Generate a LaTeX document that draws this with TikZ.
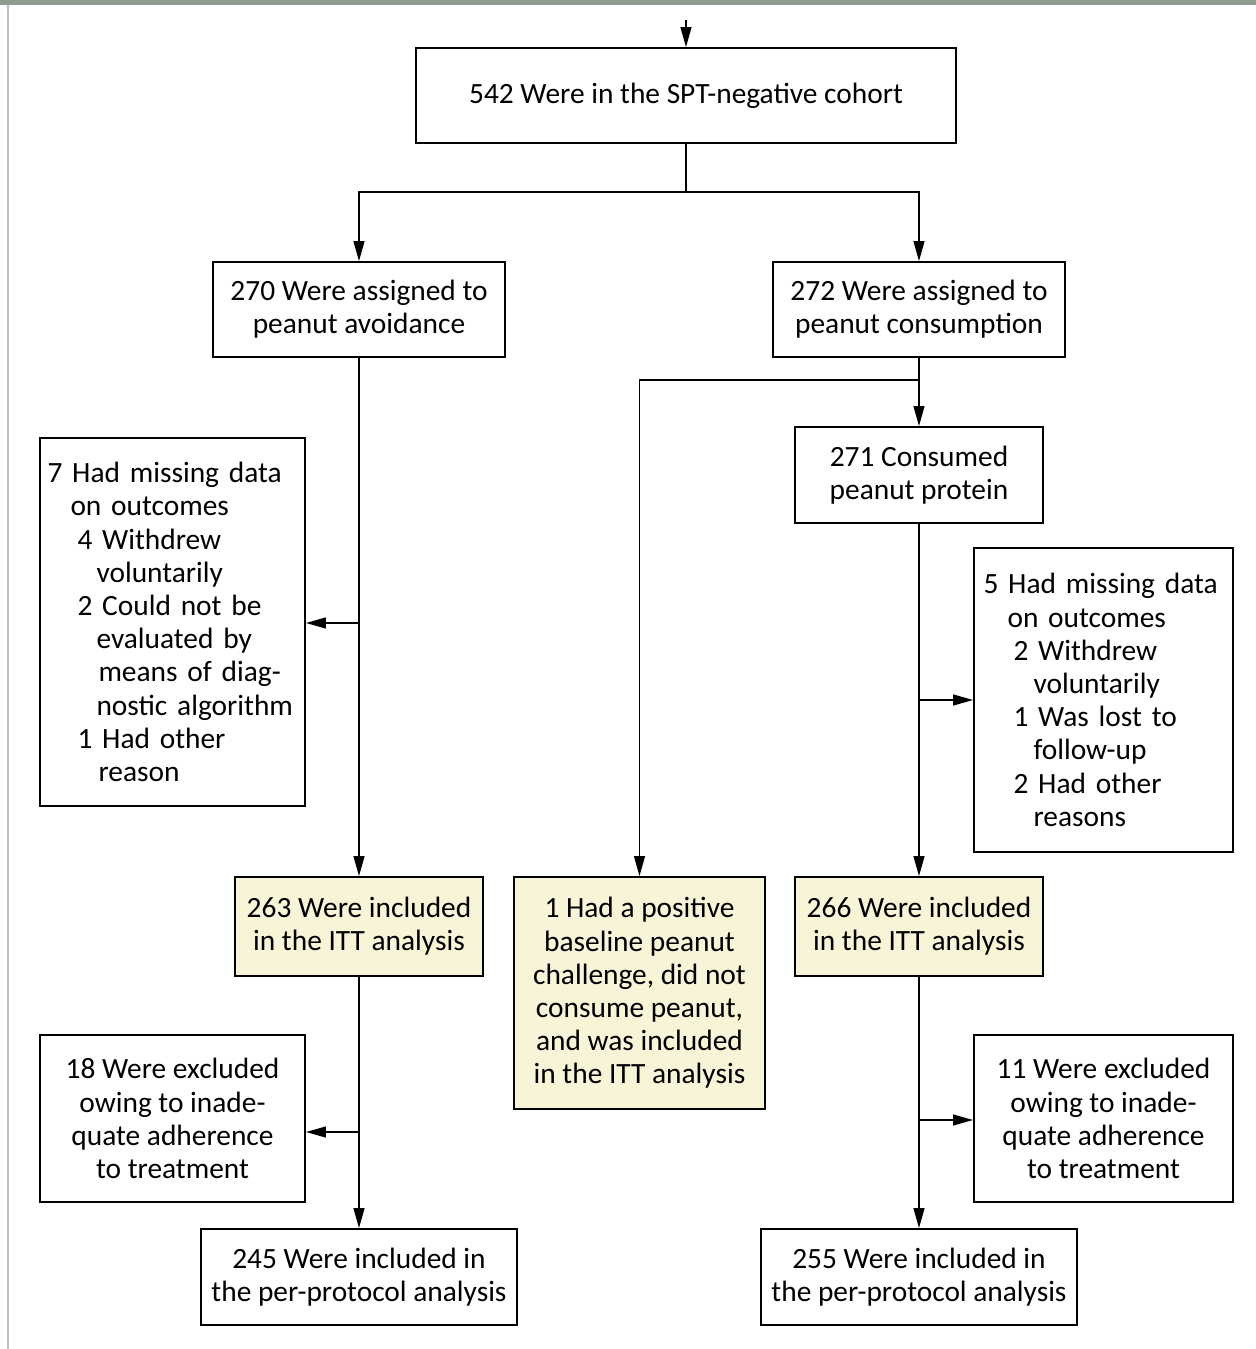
\documentclass[tikz,border=0pt]{standalone}
\usepackage{fontspec}
\setmainfont{Carlito}
\usetikzlibrary{arrows.meta}
\definecolor{boxfill}{HTML}{F8F4D8}
\definecolor{barcol}{HTML}{8E9C8E}
\tikzset{
  box/.style={draw=black, line width=0.9pt, align=center, inner sep=0pt,
    font=\fontsize{14.7}{16.6}\selectfont},
  ybox/.style={box, fill=boxfill},
  lbox/.style={draw=black, line width=0.9pt, align=left, inner sep=0pt,
    font=\fontsize{14.7}{16.6}\selectfont},
  arr/.style={line width=0.9pt, -{Triangle[length=10pt,width=5.4pt]}},
}
\begin{document}
\begin{tikzpicture}[x=0.5pt,y=-0.5pt]
\useasboundingbox (0,0) rectangle (1256,1349);
\fill[white] (0,0) rectangle (1256,1349);
\fill[barcol] (0,0) rectangle (1256,5);
\fill[gray!50] (7,5) rectangle (9,1349);

\node[box, minimum width=270pt, minimum height=47.5pt] (top) at (686,95.5) {542 Were in the SPT-negative cohort};
\node[box, minimum width=146pt, minimum height=47.5pt] (avoid) at (359,309.5) {270 Were assigned to\\peanut avoidance};
\node[box, minimum width=146pt, minimum height=47.5pt] (consume) at (919,309.5) {272 Were assigned to\\peanut consumption};
\node[box, minimum width=124pt, minimum height=48pt] (consumed) at (919,475) {271 Consumed\\peanut protein};

\node[lbox, minimum width=132.5pt, minimum height=184pt, text width=125pt] (missL) at (172.5,622)
{7 Had missing data\\
\hspace*{11.5pt}on outcomes\\
\hspace*{15pt}4 Withdrew\\
\hspace*{24.5pt}voluntarily\\
\hspace*{15pt}2 Could not be\\
\hspace*{24.5pt}evaluated by\\
\hspace*{25.5pt}means of diag-\\
\hspace*{24.5pt}nostic algorithm\\
\hspace*{15pt}1 Had other\\
\hspace*{25.5pt}reason};

\node[lbox, minimum width=129.5pt, minimum height=152pt, text width=120pt] (missR) at (1103.5,700)
{5 Had missing data\\
\hspace*{12pt}on outcomes\\
\hspace*{15pt}2 Withdrew\\
\hspace*{25pt}voluntarily\\
\hspace*{15pt}1 Was lost to\\
\hspace*{25pt}follow-up\\
\hspace*{15pt}2 Had other\\
\hspace*{25pt}reasons};

\node[ybox, minimum width=124pt, minimum height=49.5pt] (ittL) at (359,926.5) {263 Were included\\in the ITT analysis};
\node[ybox, minimum width=125.5pt, minimum height=116pt] (central) at (639.5,993) {1 Had a positive\\baseline peanut\\challenge, did not\\consume peanut,\\and was included\\in the ITT analysis};
\node[ybox, minimum width=124pt, minimum height=49.5pt] (ittR) at (919,926.5) {266 Were included\\in the ITT analysis};

\node[box, minimum width=132.5pt, minimum height=83.5pt] (exclL) at (172.5,1118.5) {18 Were excluded\\owing to inade-\\quate adherence\\to treatment};
\node[box, minimum width=129.5pt, minimum height=83.5pt] (exclR) at (1103.5,1118.5) {11 Were excluded\\owing to inade-\\quate adherence\\to treatment};

\node[box, minimum width=158pt, minimum height=48pt] (ppL) at (359,1277) {245 Were included in\\the per-protocol analysis};
\node[box, minimum width=158pt, minimum height=48pt] (ppR) at (919,1277) {255 Were included in\\the per-protocol analysis};

% connectors
\coordinate (src) at (686,20);
\draw[arr] (src) -- (top.north);
\coordinate (split) at (686,192);
\draw[line width=0.9pt] (top.south) -- (split);
\draw[arr] (split) -| (avoid.north);
\draw[arr] (split) -| (consume.north);

\draw[arr] (avoid.south) -- (ittL.north);
\coordinate (jmL) at (359,623);
\draw[arr] (jmL) -- (jmL -| missL.east);

\draw[arr] (consume.south) -- (consumed.north);
\coordinate (br) at (919,380);
\draw[arr] (br) -| (central.north);

\draw[arr] (consumed.south) -- (ittR.north);
\coordinate (jmR) at (919,700);
\draw[arr] (jmR) -- (jmR -| missR.west);

\draw[arr] (ittL.south) -- (ppL.north);
\coordinate (jeL) at (359,1132);
\draw[arr] (jeL) -- (jeL -| exclL.east);

\draw[arr] (ittR.south) -- (ppR.north);
\coordinate (jeR) at (919,1120);
\draw[arr] (jeR) -- (jeR -| exclR.west);
\end{tikzpicture}
\end{document}
